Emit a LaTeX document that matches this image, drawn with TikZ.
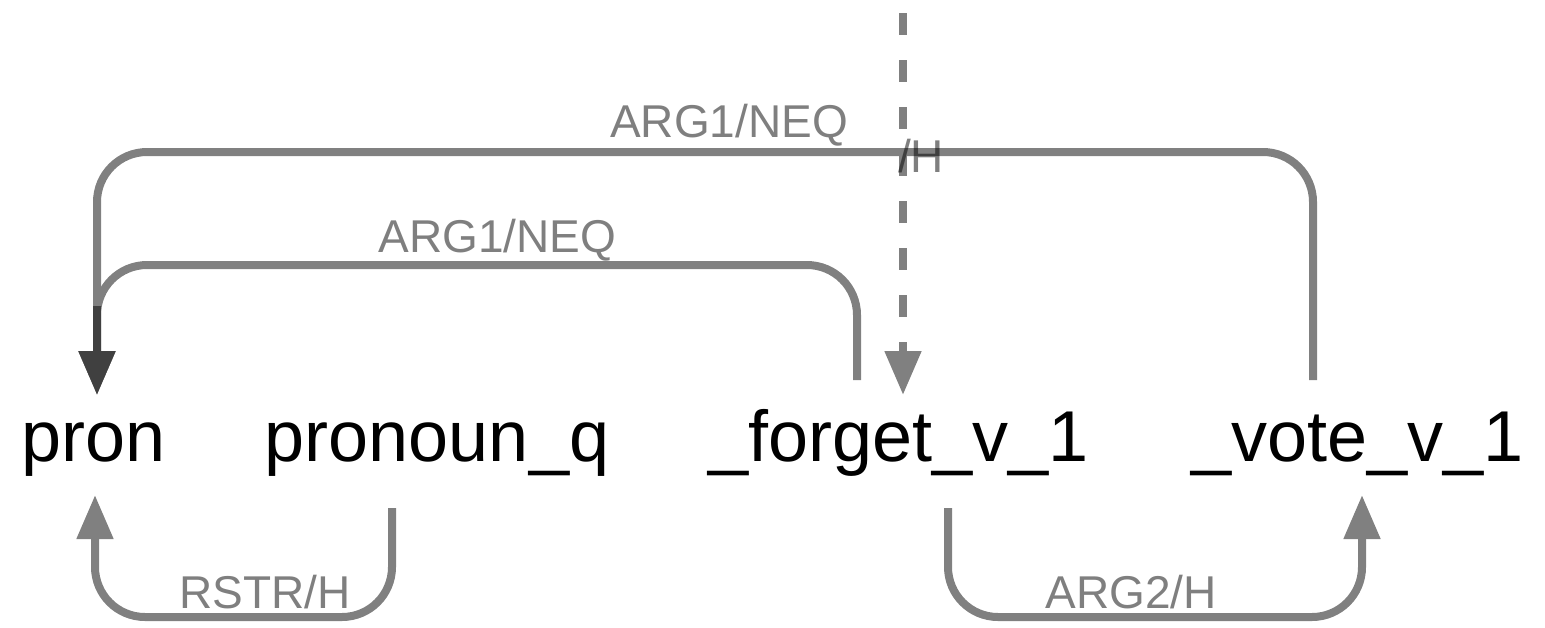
\documentclass[tikz,border=0pt]{standalone}
\usepackage{fontspec}
\setmainfont{Liberation Sans}
\usetikzlibrary{arrows.meta,calc}
\definecolor{edgegray}{HTML}{808080}
\definecolor{darkgray}{HTML}{404040}
\begin{document}
\begin{tikzpicture}[x=0.5pt,y=-0.5pt,
  word/.style={anchor=base,inner sep=0pt,font=\fontsize{36pt}{40pt}\selectfont,text=black},
  lbl/.style={anchor=base,inner sep=0pt,font=\fontsize{23pt}{26pt}\selectfont,text=black,text opacity=0.5},
  edge/.style={draw=edgegray,line width=4pt,rounded corners=25pt,
    -{Triangle[length=22pt,width=17.5pt]}},
  dashedge/.style={edge,dash pattern=on 11pt off 12.5pt},
  overlap/.style={draw=darkgray,line width=4pt,-{Triangle[length=22pt,width=17.5pt]}}]
\useasboundingbox (0,0) rectangle (1545,627);
% words
\node[word] (pron)   at (93.5,461)  {pron};
\node[word] (pq)     at (437,461)   {pronoun\_q};
\node[word] (forget) at (898.5,461) {\_forget\_v\_1};
\node[word] (vote)   at (1357.5,461){\_vote\_v\_1};
\coordinate (top) at (903,13);
% edges
\draw[edge] ($(vote.base)+(-44.5,-81)$) -- ++(0,-228) -| ($(pron.base)+(3.5,-66)$);
\draw[edge] ($(forget.base)+(-41.5,-81)$) -- ++(0,-115) -| ($(pron.base)+(3.5,-66)$);
\draw[overlap] ($(pron.base)+(3.5,-155)$) -- ($(pron.base)+(3.5,-66)$);
\draw[dashedge] (top) -- ($(forget.base)+(4.5,-66)$);
\draw[edge] ($(pq.base)+(-45,47)$) -- ++(0,109) -| ($(pron.base)+(1.5,34)$);
\draw[edge] ($(forget.base)+(49.5,47)$) -- ++(0,109) -| ($(vote.base)+(4.5,34)$);
% labels
\node[lbl] (l1) at (729,137)   {ARG1/NEQ};
\node[lbl] (l2) at (497.5,252) {ARG1/NEQ};
\node[lbl] (l3) at (921,172)   {/H};
\node[lbl] (l4) at (265,608)   {RSTR/H};
\node[lbl] (l5) at (1131,608)  {ARG2/H};
\end{tikzpicture}
\end{document}
